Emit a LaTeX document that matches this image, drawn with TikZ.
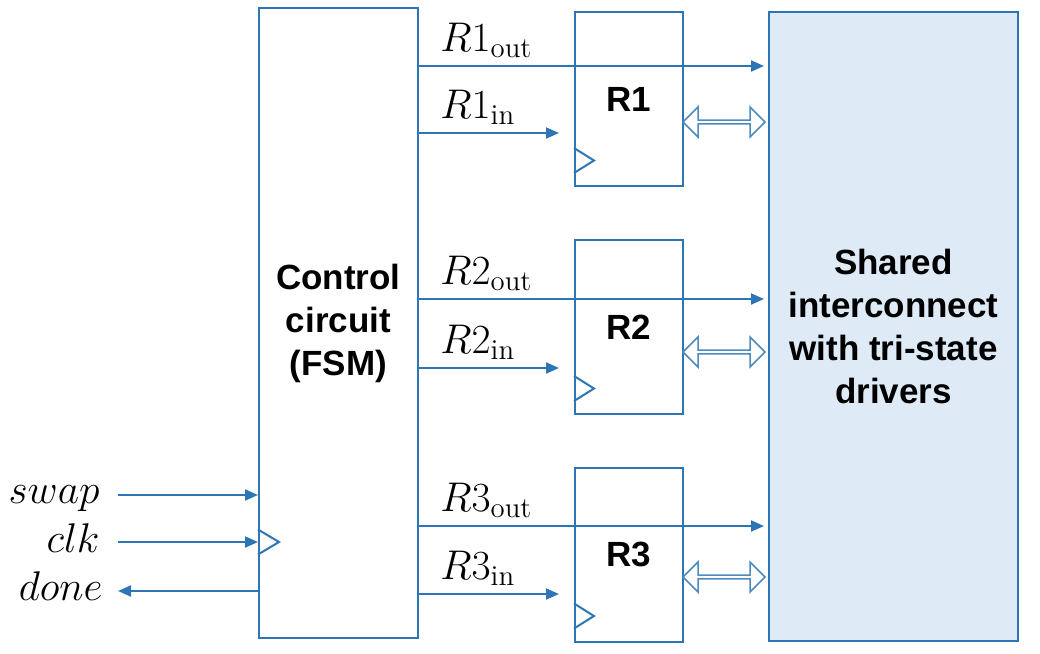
\documentclass[tikz,border=0pt]{standalone}
\usepackage{fontspec}
\setsansfont{Liberation Sans}
\usetikzlibrary{calc,positioning,arrows.meta,shapes.arrows}
\definecolor{wire}{HTML}{2E75B6}
\definecolor{busfill}{HTML}{DEEBF7}

\begin{document}
\begin{tikzpicture}[x=0.5pt,y=-0.5pt,
    blk/.style={draw=wire,line width=1pt,rectangle,inner sep=0pt,align=center,font=\sffamily\bfseries\fontsize{17.5}{21.5}\selectfont},
    sig/.style={draw=wire,line width=1pt,-{Triangle[length=6.5pt,width=5.5pt]}},
    lbl/.style={inner sep=0pt,font=\fontsize{20.74}{25}\selectfont},
    xfer/.style={double arrow,draw=wire!85,line width=0.75pt,fill=white,minimum height=41pt,minimum width=15pt,double arrow head extend=2.5pt,inner sep=0pt},
    clockmark/.style={draw=wire,line width=1pt}]
    \useasboundingbox (0,0) rectangle (1040,654);

    \node[blk,minimum width=79.5pt,minimum height=315pt] (ctrl) at (338.5,323) {Control\\circuit\\(FSM)};
    \node[blk,minimum width=54pt,minimum height=87pt] (r1) at (629,99) {R1};
    \node[blk,minimum width=54pt,minimum height=87pt] (r2) at (629,327) {R2};
    \node[blk,minimum width=54pt,minimum height=87pt] (r3) at (629,554.5) {R3};
    \node[blk,fill=busfill,minimum width=124.5pt,minimum height=314.5pt] (bus) at (893.5,326.5) {Shared\\interconnect\\with tri-state\\drivers};

    % clock inputs
    \draw[clockmark] ([yshift=7pt]r1.south west) -- ++(20,-12.5) -- ++(-20,-12.5);
    \draw[clockmark] ([yshift=7pt]r2.south west) -- ++(20,-12.5) -- ++(-20,-12.5);
    \draw[clockmark] ([yshift=7pt]r3.south west) -- ++(20,-12.5) -- ++(-20,-12.5);

    % control lines
    \node[lbl,anchor=base west] (o1) at (440,51) {$R1_{\mathrm{out}}$};
    \node[lbl,anchor=base west] (i1) at (440,118) {$R1_{\mathrm{in}}$};
    \node[lbl,anchor=base west] (o2) at (440,284) {$R2_{\mathrm{out}}$};
    \node[lbl,anchor=base west] (i2) at (440,353) {$R2_{\mathrm{in}}$};
    \node[lbl,anchor=base west] (o3) at (440,511) {$R3_{\mathrm{out}}$};
    \node[lbl,anchor=base west] (i3) at (440,579) {$R3_{\mathrm{in}}$};
    \draw[sig,shorten >=2pt] (ctrl.east |- 0,66) -- (bus.west |- 0,66);
    \draw[sig,shorten >=7.5pt] (ctrl.east |- 0,133) -- (r1.west |- 0,133);
    \draw[sig,shorten >=2pt] (ctrl.east |- 0,299) -- (bus.west |- 0,299);
    \draw[sig,shorten >=7.5pt] (ctrl.east |- 0,368) -- (r2.west |- 0,368);
    \draw[sig,shorten >=2pt] (ctrl.east |- 0,526) -- (bus.west |- 0,526);
    \draw[sig,shorten >=7.5pt] (ctrl.east |- 0,594) -- (r3.west |- 0,594);

    % bus transfers
    \node[xfer] (x1) at (724,122) {};
    \node[xfer] (x2) at (724,352) {};
    \node[xfer] (x3) at (724,577) {};

    % outside signals
    \node[lbl,anchor=base east] (swap) at (100,503) {$swap$};
    \node[lbl,anchor=base east] (clk) at (100,552) {$clk$};
    \node[lbl,anchor=base east] (done) at (103,600) {$done$};
    \coordinate (swapin) at (118,495);
    \coordinate (clkin) at (118,542);
    \coordinate (doneout) at (118,591);
    \draw[sig] (swapin) -- (ctrl.west |- swapin);
    \draw[sig] (clkin) -- (ctrl.west |- clkin);
    \draw[sig] (ctrl.west |- doneout) -- (doneout);
    \draw[clockmark] ($(ctrl.west |- clkin)+(0,12.5)$) -- ++(21,-12.5) -- ++(-21,-12.5);
\end{tikzpicture}
\end{document}
